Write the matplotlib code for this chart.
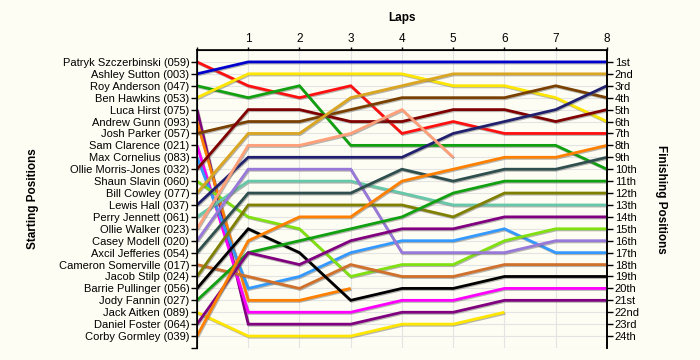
import numpy as np
import matplotlib
matplotlib.use('Agg')
import matplotlib.pyplot as plt
import matplotlib.patheffects as pe

nan = np.nan

# drivers in starting order
drivers = ['Patryk Szczerbinski (059)', 'Ashley Sutton (003)', 'Roy Anderson (047)',
           'Ben Hawkins (053)', 'Luca Hirst (075)', 'Andrew Gunn (093)',
           'Josh Parker (057)', 'Sam Clarence (021)', 'Max Cornelius (083)',
           'Ollie Morris-Jones (032)', 'Shaun Slavin (060)', 'Bill Cowley (077)',
           'Lewis Hall (037)', 'Perry Jennett (061)', 'Ollie Walker (023)',
           'Casey Modell (020)', 'Axcil Jefferies (054)', 'Cameron Somerville (017)',
           'Jacob Stilp (024)', 'Barrie Pullinger (056)', 'Jody Fannin (027)',
           'Jack Aitken (089)', 'Daniel Foster (064)', 'Corby Gormley (039)']

laps = [0, 1, 2, 3, 4, 5, 6, 7, 8]

# position of each driver at the end of each lap (lap 0 = grid)
positions = [
    [1, 3, 4, 3, 7, 6, 7, 7, 7],
    [2, 1, 1, 1, 1, 1, 1, 1, 1],
    [3, 4, 3, 8, 8, 8, 8, 8, 10],
    [4, 2, 2, 2, 2, 3, 3, 4, 6],
    [5, 23, 23, 23, 22, 22, 21, 21, 21],
    [6, 21, 21, 20, nan, nan, nan, nan, nan],
    [7, 6, 6, 5, 4, 4, 4, 3, 4],
    [8, 22, 22, 22, 21, 21, 20, 20, 20],
    [9, 20, 19, 17, 16, 16, 15, 17, 17],
    [10, 5, 5, 6, 6, 5, 5, 6, 5],
    [11, 14, 15, 19, 18, 18, 16, 15, 15],
    [12, 7, 7, 4, 3, 2, 2, 2, 2],
    [13, 9, 9, 9, 9, 7, 6, 5, 3],
    [14, 11, 11, 11, 12, 13, 13, 13, 13],
    [15, 8, 8, 7, 5, 9, nan, nan, nan],
    [16, 10, 10, 10, 17, 17, 17, 16, 16],
    [17, 12, 12, 12, 10, 11, 10, 10, 9],
    [18, 19, 20, 18, 19, 19, 18, 18, 18],
    [19, 13, 13, 13, 13, 14, 12, 12, 12],
    [20, 15, 17, 21, 20, 20, 19, 19, 19],
    [21, 17, 16, 15, 14, 12, 11, 11, 11],
    [22, 24, 24, 24, 23, 23, 22, nan, nan],
    [23, 17, 18, 16, 15, 15, 14, 14, 14],
    [24, 16, 14, 14, 11, 10, 9, 9, 8],
]

colors = ['#ff1010', '#0000cc', '#10a010', '#ffe600', '#800080', '#ff8000',
          '#7a4000', '#ff00ff', '#3399ff', '#800000', '#80e010', '#daa520',
          '#20206e', '#66c8a8', '#ffa07a', '#9878d8', '#2f4f4f', '#d0702a',
          '#808000', '#000000', '#10a010', '#ffe600', '#800080', '#ff8000']

finish_labels = ['1st', '2nd', '3rd', '4th', '5th', '6th', '7th', '8th', '9th', '10th',
                 '11th', '12th', '13th', '14th', '15th', '16th', '17th', '18th', '19th',
                 '20th', '21st', '22nd', '23rd', '24th']

bg = '#fdfdf3'
plt.rcParams['font.family'] = ['Liberation Sans', 'DejaVu Sans']

fig = plt.figure(figsize=(7, 3.6), dpi=100, facecolor=bg)
ax = fig.add_axes([0.2814, 0.0333, 0.5857, 0.8278], facecolor=bg)

shadow = [pe.SimpleLineShadow(offset=(0.6, -0.8), shadow_color='#606060', alpha=0.45),
          pe.Normal()]
for pos, c in zip(positions, colors):
    ax.plot(laps, pos, color=c, lw=2.0, solid_capstyle='butt',
            solid_joinstyle='miter', path_effects=shadow, zorder=3)

ax.set_xlim(0, 8)
ax.set_ylim(25, 0)

ax.xaxis.tick_top()
ax.set_xticks(laps)
ax.set_xticklabels([''] + [str(l) for l in laps[1:]], fontsize=8.5)
ax.set_xlabel('Laps', fontsize=8.5, fontweight='bold', labelpad=9)
ax.xaxis.set_label_position('top')

ax.set_yticks(range(1, 26))
ax.set_yticklabels(drivers + [''], fontsize=8)
ax.set_ylabel('Starting Positions', fontsize=8.5, fontweight='bold', labelpad=14)

ax.grid(True, color='#e4e4e4', lw=0.8, zorder=0)
ax.tick_params(axis='x', length=2.5, width=1, pad=1, color='black')
ax.tick_params(axis='y', length=4, width=1, pad=1.5, color='black')
ax.spines['bottom'].set_visible(False)
for s in ['top', 'left', 'right']:
    ax.spines[s].set_linewidth(1.2)

ax2 = ax.twinx()
ax2.set_ylim(25, 0)
ax2.set_yticks(range(1, 25))
ax2.set_yticklabels(finish_labels, fontsize=8)
ax2.tick_params(axis='y', length=4, width=1, pad=1.5)
ax2.spines['bottom'].set_visible(False)
ax2.spines['right'].set_linewidth(1.2)
ax2.set_ylabel('Finishing Positions', fontsize=8.5, fontweight='bold',
               rotation=-90, labelpad=11, va='bottom')

fig.savefig('out.png', dpi=100, facecolor=bg)
